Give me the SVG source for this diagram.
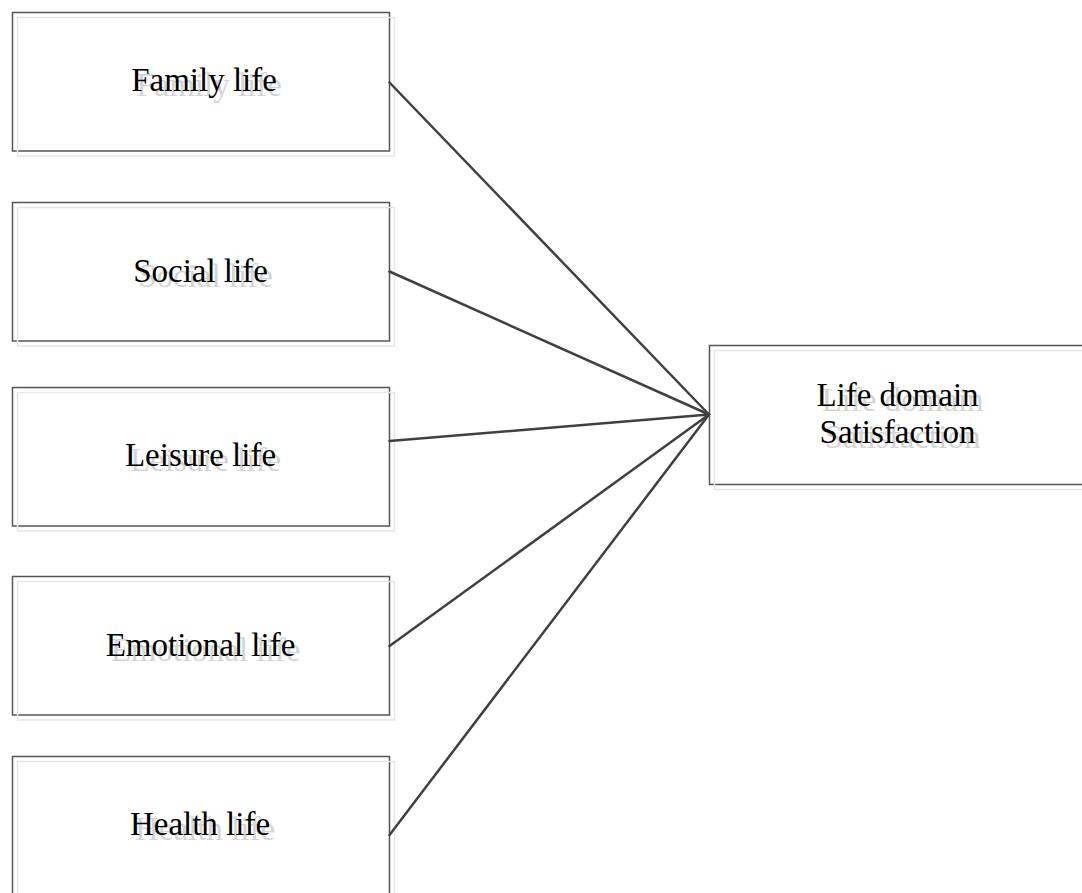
<svg xmlns="http://www.w3.org/2000/svg" width="1082" height="893" viewBox="0 0 1082 893">
<style>
.box{fill:#ffffff;stroke:#555555;stroke-width:1.5}
.shadow{fill:none;stroke:#e6e6e6;stroke-width:1.5}
text{font-family:'Liberation Serif','DejaVu Serif','Times New Roman',serif;font-size:33px;text-anchor:middle}
.t{fill:#000000}
.ts{fill:#d4d4d4}
.conn{stroke:#404040;stroke-width:2.5;fill:none;stroke-linecap:round}
</style>
<rect width="1082" height="893" fill="#ffffff"/>
<g id="family">
<rect class="box" x="12.5" y="12.5" width="377" height="138.5"/>
<rect class="shadow" x="17.5" y="17.5" width="377" height="138.5"/>
<text class="ts" x="209" y="96">Family life</text>
<text class="t" x="204" y="91">Family life</text>
</g>
<g id="social">
<rect class="box" x="12.5" y="202.5" width="377" height="138.5"/>
<rect class="shadow" x="17.5" y="207.5" width="377" height="138.5"/>
<text class="ts" x="205.5" y="287">Social life</text>
<text class="t" x="200.5" y="282">Social life</text>
</g>
<g id="leisure">
<rect class="box" x="12.5" y="387.5" width="377" height="138.5"/>
<rect class="shadow" x="17.5" y="392.5" width="377" height="138.5"/>
<text class="ts" x="205.5" y="471">Leisure life</text>
<text class="t" x="200.5" y="466">Leisure life</text>
</g>
<g id="emotional">
<rect class="box" x="12.5" y="576.5" width="377" height="138.5"/>
<rect class="shadow" x="17.5" y="581.5" width="377" height="138.5"/>
<text class="ts" x="205.5" y="661">Emotional life</text>
<text class="t" x="200.5" y="656">Emotional life</text>
</g>
<g id="health">
<rect class="box" x="12.5" y="756.5" width="377" height="138.5"/>
<rect class="shadow" x="17.5" y="761.5" width="377" height="138.5"/>
<text class="ts" x="205" y="840">Health life</text>
<text class="t" x="200" y="835">Health life</text>
</g>
<g id="satisfaction">
<rect class="box" x="709.5" y="345.5" width="377" height="139"/>
<rect class="shadow" x="714.5" y="350.5" width="377" height="139"/>
<text class="ts" x="902.5" y="411">Life domain</text>
<text class="ts" x="902.5" y="448">Satisfaction</text>
<text class="t" x="897.5" y="406">Life domain</text>
<text class="t" x="897.5" y="443">Satisfaction</text>
</g>
<g id="connectors">
<line class="conn" x1="389.5" y1="82.5" x2="709" y2="414.5"/>
<line class="conn" x1="389.5" y1="271.5" x2="709" y2="414.5"/>
<line class="conn" x1="389.5" y1="441" x2="709" y2="414.5"/>
<line class="conn" x1="389.5" y1="646" x2="709" y2="414.5"/>
<line class="conn" x1="389.5" y1="835" x2="709" y2="414.5"/>
</g>
</svg>
